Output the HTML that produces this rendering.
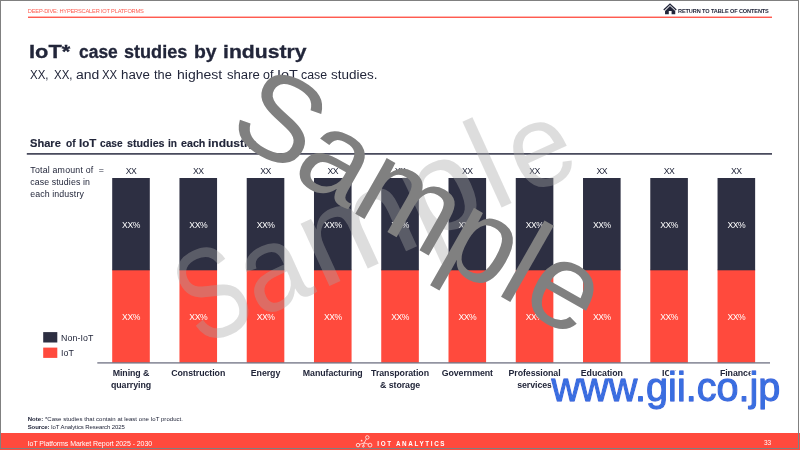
<!DOCTYPE html>
<html lang="en"><head><meta charset="utf-8"><title>IoT case studies by industry</title>
<style>
html,body{margin:0;padding:0;background:#fff;}
body{width:800px;height:450px;overflow:hidden;position:relative;font-family:"Liberation Sans",sans-serif;color:#22263a;}
.t{position:absolute;white-space:nowrap;line-height:1;}
.abs{position:absolute;}
.w{display:inline-block;position:relative;transform-origin:0 0;}
.tot{top:166.7px;width:60px;text-align:center;font-size:8.7px;letter-spacing:-0.5px;}
.pv{width:60px;text-align:center;font-size:8.6px;color:#fff;letter-spacing:-0.45px;}
.cat{top:367.1px;width:80px;text-align:center;font-size:8.8px;font-weight:bold;line-height:12px;white-space:normal;letter-spacing:-0.06px;}
</style></head><body>
<!-- header -->
<div class="t" style="left:27.8px;top:8.9px;font-size:5.7px;color:#ff4a3d;letter-spacing:-0.2px;opacity:.9">DEEP-DIVE: HYPERSCALER IOT PLATFORMS</div>
<svg class="abs" style="left:0;top:0" width="800" height="450" viewBox="0 0 800 450">
<rect x="28" y="16.6" width="744" height="1.3" fill="#ff4a3d"/>
<rect x="26.8" y="153.15" width="745.2" height="1.5" fill="#2b2d42"/>
<rect x="112.20" y="269.6" width="37.6" height="93.2" fill="#ff4a3d"/><rect x="112.20" y="178" width="37.6" height="92.3" fill="#2d2f42"/>
<rect x="179.46" y="269.6" width="37.6" height="93.2" fill="#ff4a3d"/><rect x="179.46" y="178" width="37.6" height="92.3" fill="#2d2f42"/>
<rect x="246.72" y="269.6" width="37.6" height="93.2" fill="#ff4a3d"/><rect x="246.72" y="178" width="37.6" height="92.3" fill="#2d2f42"/>
<rect x="313.98" y="269.6" width="37.6" height="93.2" fill="#ff4a3d"/><rect x="313.98" y="178" width="37.6" height="92.3" fill="#2d2f42"/>
<rect x="381.24" y="269.6" width="37.6" height="93.2" fill="#ff4a3d"/><rect x="381.24" y="178" width="37.6" height="92.3" fill="#2d2f42"/>
<rect x="448.50" y="269.6" width="37.6" height="93.2" fill="#ff4a3d"/><rect x="448.50" y="178" width="37.6" height="92.3" fill="#2d2f42"/>
<rect x="515.76" y="269.6" width="37.6" height="93.2" fill="#ff4a3d"/><rect x="515.76" y="178" width="37.6" height="92.3" fill="#2d2f42"/>
<rect x="583.02" y="269.6" width="37.6" height="93.2" fill="#ff4a3d"/><rect x="583.02" y="178" width="37.6" height="92.3" fill="#2d2f42"/>
<rect x="650.28" y="269.6" width="37.6" height="93.2" fill="#ff4a3d"/><rect x="650.28" y="178" width="37.6" height="92.3" fill="#2d2f42"/>
<rect x="717.54" y="269.6" width="37.6" height="93.2" fill="#ff4a3d"/><rect x="717.54" y="178" width="37.6" height="92.3" fill="#2d2f42"/>
<rect x="97.3" y="362.25" width="672.7" height="1.3" fill="#6f7182"/>
<rect x="43.2" y="332.1" width="14.1" height="10.4" fill="#2d2f42"/><rect x="43.2" y="347.6" width="14.1" height="10.3" fill="#ff4a3d"/>
<path d="M670 3.2 L676.7 9.4 L675.8 10.4 L670 5 L664.2 10.4 L663.3 9.4 Z M670 6.1 L675.25 10.9 L675.25 14.3 L671.6 14.3 L671.6 10.9 L668.8 10.9 L668.8 14.3 L665.05 14.3 L665.05 10.9 Z" fill="#22263a"/>
</svg>
<div class="t" style="left:678px;top:9.1px;font-size:5.6px;font-weight:bold;letter-spacing:-0.12px">RETURN TO TABLE OF CONTENTS</div>
<!-- titles -->
<div class="t" style="left:0;top:43.3px;font-size:18.9px;font-weight:bold;-webkit-text-stroke:0.3px #22263a"><span class="w" style="left:29.25px;transform:scaleX(1.156)">IoT*</span> <span class="w" style="left:38.06px;transform:scaleX(0.923)">case</span> <span class="w" style="left:35.74px;transform:scaleX(0.957)">studies</span> <span class="w" style="left:34.78px;transform:scaleX(1.027)">by</span> <span class="w" style="left:36.27px;transform:scaleX(1.120)">industry</span></div>
<div class="t" style="left:0;top:68.8px;font-size:12px;"><span class="w" style="left:30.31px;transform:scaleX(0.958)">XX,</span> <span class="w" style="left:31.27px;transform:scaleX(0.956)">XX,</span> <span class="w" style="left:30.59px;transform:scaleX(1.165)">and</span> <span class="w" style="left:33.56px;transform:scaleX(0.951)">XX</span> <span class="w" style="left:32.96px;transform:scaleX(1.107)">have</span> <span class="w" style="left:36.71px;transform:scaleX(1.066)">the</span> <span class="w" style="left:38.99px;transform:scaleX(1.168)">highest</span> <span class="w" style="left:47.32px;transform:scaleX(1.094)">share</span> <span class="w" style="left:49.78px;transform:scaleX(1.038)">of</span> <span class="w" style="left:50.36px;transform:scaleX(1.200)">IoT</span> <span class="w" style="left:54.23px;transform:scaleX(1.027)">case</span> <span class="w" style="left:55.69px;transform:scaleX(1.125)">studies.</span></div>
<div class="t" style="left:0;top:137.7px;font-size:11.8px;font-weight:bold;-webkit-text-stroke:0.15px #22263a"><span class="w" style="left:30.20px;transform:scaleX(0.941)">Share</span> <span class="w" style="left:29.99px;transform:scaleX(0.860)">of</span> <span class="w" style="left:28.12px;transform:scaleX(0.981)">IoT</span> <span class="w" style="left:28.82px;transform:scaleX(0.860)">case</span> <span class="w" style="left:25.70px;transform:scaleX(0.910)">studies</span> <span class="w" style="left:22.16px;transform:scaleX(0.860)">in</span> <span class="w" style="left:21.42px;transform:scaleX(0.908)">each</span> <span class="w" style="left:18.94px;transform:scaleX(1.017)">industry</span></div>
<div class="t" style="left:30.3px;top:163.75px;font-size:8.8px;line-height:12.2px;letter-spacing:0.1px"><span style="letter-spacing:0.2px">Total amount of&nbsp; =</span><br>case studies in<br>each industry</div>
<!-- chart -->
<div class="t tot" style="left:101.00px">XX</div>
<div class="t pv" style="left:101.00px;top:220.6px">XX%</div>
<div class="t pv" style="left:101.00px;top:312.8px">XX%</div>
<div class="t cat" style="left:91.00px">Mining &amp;<br>quarrying</div>
<div class="t tot" style="left:168.26px">XX</div>
<div class="t pv" style="left:168.26px;top:220.6px">XX%</div>
<div class="t pv" style="left:168.26px;top:312.8px">XX%</div>
<div class="t cat" style="left:158.26px">Construction</div>
<div class="t tot" style="left:235.52px">XX</div>
<div class="t pv" style="left:235.52px;top:220.6px">XX%</div>
<div class="t pv" style="left:235.52px;top:312.8px">XX%</div>
<div class="t cat" style="left:225.52px">Energy</div>
<div class="t tot" style="left:302.78px">XX</div>
<div class="t pv" style="left:302.78px;top:220.6px">XX%</div>
<div class="t pv" style="left:302.78px;top:312.8px">XX%</div>
<div class="t cat" style="left:292.78px">Manufacturing</div>
<div class="t tot" style="left:370.04px">XX</div>
<div class="t pv" style="left:370.04px;top:220.6px">XX%</div>
<div class="t pv" style="left:370.04px;top:312.8px">XX%</div>
<div class="t cat" style="left:360.04px">Transporation<br>&amp; storage</div>
<div class="t tot" style="left:437.30px">XX</div>
<div class="t pv" style="left:437.30px;top:220.6px">XX%</div>
<div class="t pv" style="left:437.30px;top:312.8px">XX%</div>
<div class="t cat" style="left:427.30px">Government</div>
<div class="t tot" style="left:504.56px">XX</div>
<div class="t pv" style="left:504.56px;top:220.6px">XX%</div>
<div class="t pv" style="left:504.56px;top:312.8px">XX%</div>
<div class="t cat" style="left:494.56px">Professional<br>services</div>
<div class="t tot" style="left:571.82px">XX</div>
<div class="t pv" style="left:571.82px;top:220.6px">XX%</div>
<div class="t pv" style="left:571.82px;top:312.8px">XX%</div>
<div class="t cat" style="left:561.82px">Education</div>
<div class="t tot" style="left:639.08px">XX</div>
<div class="t pv" style="left:639.08px;top:220.6px">XX%</div>
<div class="t pv" style="left:639.08px;top:312.8px">XX%</div>
<div class="t cat" style="left:629.08px">ICT</div>
<div class="t tot" style="left:706.34px">XX</div>
<div class="t pv" style="left:706.34px;top:220.6px">XX%</div>
<div class="t pv" style="left:706.34px;top:312.8px">XX%</div>
<div class="t cat" style="left:696.34px">Finance</div>
<!-- legend -->
<div class="t" style="left:61px;top:333.95px;font-size:8.8px;letter-spacing:0.08px">Non-IoT</div>
<div class="t" style="left:61px;top:349.15px;font-size:8.8px;letter-spacing:0.08px">IoT</div>
<!-- notes -->
<div class="t" style="left:27.7px;top:415.7px;font-size:6px;letter-spacing:0.04px"><b>Note:</b> *Case studies that contain at least one IoT product.</div>
<div class="t" style="left:27.7px;top:423.6px;font-size:6px;letter-spacing:-0.09px"><b>Source:</b> IoT Analytics Research 2025</div>
<!-- footer -->
<div class="abs" style="left:0;top:432.5px;width:800px;height:17.5px;background:#ff4a3d"></div>
<div class="t" style="left:27.7px;top:440.3px;font-size:7px;color:#fff;letter-spacing:-0.07px">IoT Platforms Market Report 2025 - 2030</div>
<svg class="abs" style="left:0;top:430px" width="800" height="20" viewBox="0 430 800 20" fill="none" stroke="#fff" stroke-width="0.75"><circle cx="367.3" cy="437.4" r="1.75"/><circle cx="358" cy="445.1" r="1.75"/><circle cx="370" cy="445.1" r="1.9"/><circle cx="363.4" cy="446.2" r="0.9"/><circle cx="361.6" cy="440.7" r="0.9" fill="#fff" fill-opacity="0.8" stroke="none"/><path d="M366.4 439 L364.2 442.9 L359.6 444.4 M364.2 442.9 L368.4 444.2 M364.2 442.9 L363.6 445.3" stroke-width="0.7"/></svg>
<div class="t" style="left:377.3px;top:440.5px;font-size:6.3px;font-weight:bold;color:#fff;letter-spacing:1.65px">IOT ANALYTICS</div>
<div class="t" style="left:764.1px;top:440.4px;font-size:6.5px;color:#fff;letter-spacing:-0.2px">33</div>
<!-- watermarks -->
<svg class="abs" style="left:0;top:0;overflow:hidden" width="800" height="450" viewBox="0 0 800 450" font-family="Liberation Sans, sans-serif">
<text transform="translate(183.2,352.8) rotate(-24.5)" font-size="130" fill="rgb(165,165,165)" fill-opacity="0.38" aria-label="Sample"><tspan x="18.3" y="2" font-size="130" textLength="65" lengthAdjust="spacingAndGlyphs">S</tspan><tspan x="83.5" y="0" font-size="120" textLength="64" lengthAdjust="spacingAndGlyphs">a</tspan><tspan x="151.2" y="0" font-size="130" textLength="114.8" lengthAdjust="spacingAndGlyphs">m</tspan><tspan x="263" y="0" font-size="130" textLength="74.5" lengthAdjust="spacingAndGlyphs">p</tspan><tspan x="341.7" y="0" font-size="130" textLength="27.5" lengthAdjust="spacingAndGlyphs">l</tspan><tspan x="377.3" y="0" font-size="119" textLength="62.5" lengthAdjust="spacingAndGlyphs">e</tspan></text>
<text transform="translate(219.3,136.4) rotate(29.65)" font-size="121" fill="#808080" x="4.3 80.7 148 248.8 316.1 343" y="-4.6 0 0 0 0 0">Sample</text>
</svg>
<svg class="abs" style="left:0;top:0" width="800" height="450" viewBox="0 0 800 450" font-family="Liberation Sans, sans-serif">
<defs><filter id="halo" x="-5%" y="-30%" width="110%" height="160%"><feMorphology in="SourceAlpha" operator="dilate" radius="1.3" result="d"/><feGaussianBlur in="d" stdDeviation="0.45" result="b"/><feFlood flood-color="#fff" flood-opacity="0.95"/><feComposite in2="b" operator="in" result="h"/><feMerge><feMergeNode in="h"/><feMergeNode in="SourceGraphic"/></feMerge></filter></defs>
<text transform="translate(551.5,400.9) scale(0.966,1)" font-size="41" fill="#3a6ee0" stroke="#3a6ee0" stroke-width="1.3" stroke-linejoin="round" filter="url(#halo)">www.gii.co.jp</text>
</svg>
<!-- frame -->
<div class="abs" style="left:0;top:0;width:799px;height:1px;background:#808080"></div>
<div class="abs" style="left:0;top:0;width:1px;height:449px;background:#808080"></div>
<div class="abs" style="left:798px;top:0;width:1px;height:449px;background:#808080"></div>
<div class="abs" style="left:0;top:448px;width:799px;height:1px;background:#808080"></div>
</body></html>
